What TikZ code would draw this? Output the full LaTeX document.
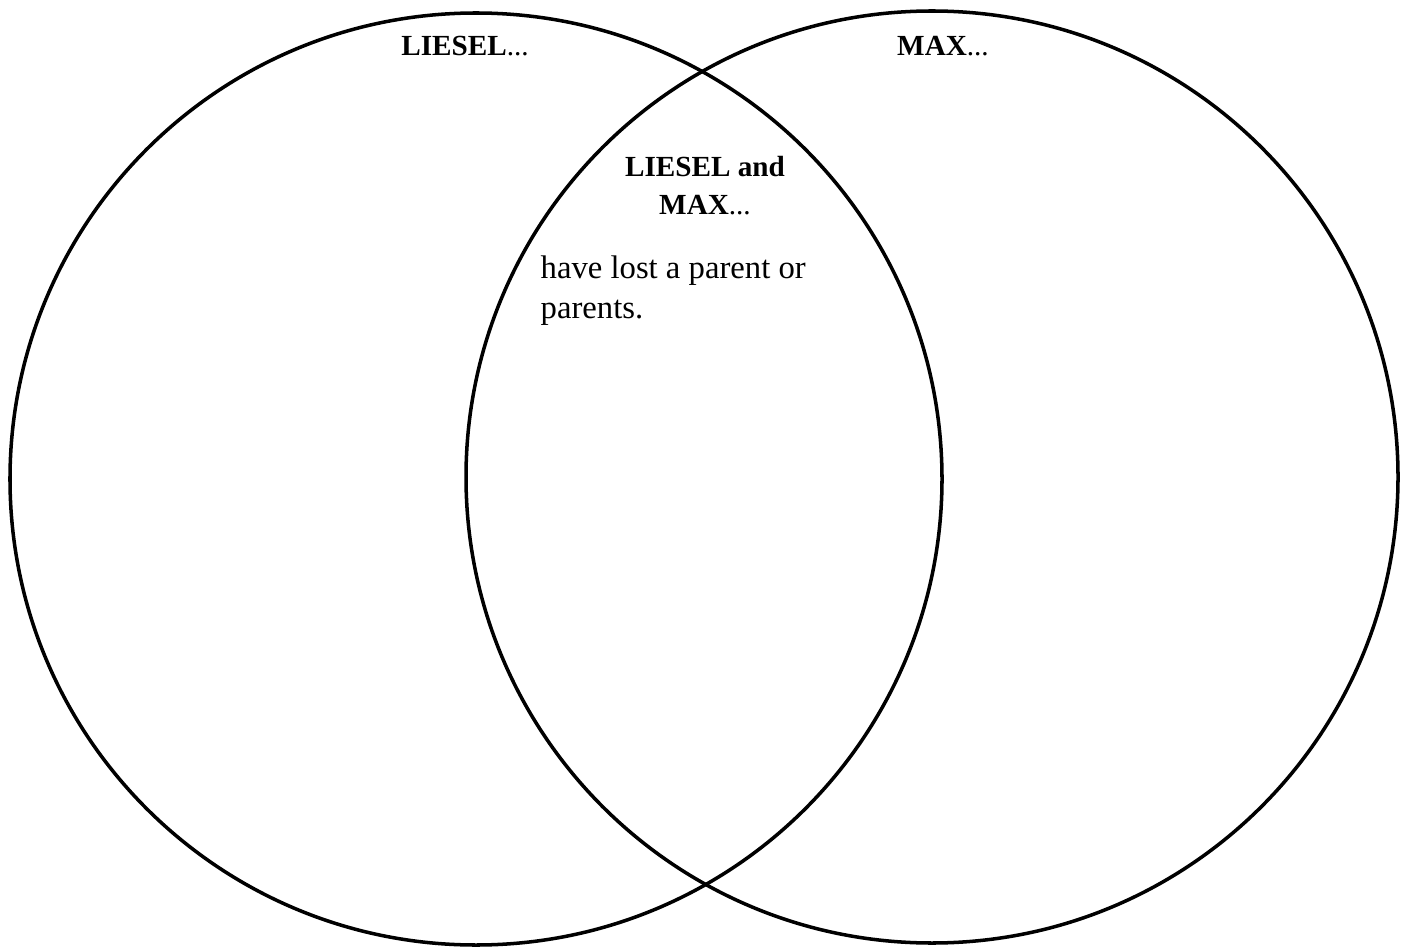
\documentclass[tikz,border=0pt]{standalone}
\usepackage{fontspec}
\setmainfont{Liberation Serif}
\usetikzlibrary{positioning}

\begin{document}
\begin{tikzpicture}[every node/.style={font=\fontsize{8.3}{10.8}\selectfont}]
    \useasboundingbox (0,0) rectangle (14.06,9.49);
    % Circles
    \node[draw, circle, line width=1pt, minimum size=9.32cm, inner sep=0pt] (liesel) at (4.76,4.70) {};
    
    \node[draw, circle, line width=1pt, minimum size=9.32cm, inner sep=0pt] (max) at (9.32,4.72) {};
    
    % Labels
    \node[anchor=base, inner sep=0pt] (lieseltitle) at (4.65,8.93) {\textbf{LIESEL}...};
    
    \node[anchor=base, inner sep=0pt] (maxtitle) at (9.43,8.93) {\textbf{MAX}...};
    
    \node[anchor=north, align=center, inner sep=0pt] (both) at (7.05,7.93) {\textbf{LIESEL and}\\\textbf{MAX}...};
    
    \node[anchor=north west, align=left, inner sep=0pt, font=\fontsize{9.3}{11.4}\selectfont] (lost) at (5.40,6.94) {have lost a parent or\\parents.};
\end{tikzpicture}
\end{document}
